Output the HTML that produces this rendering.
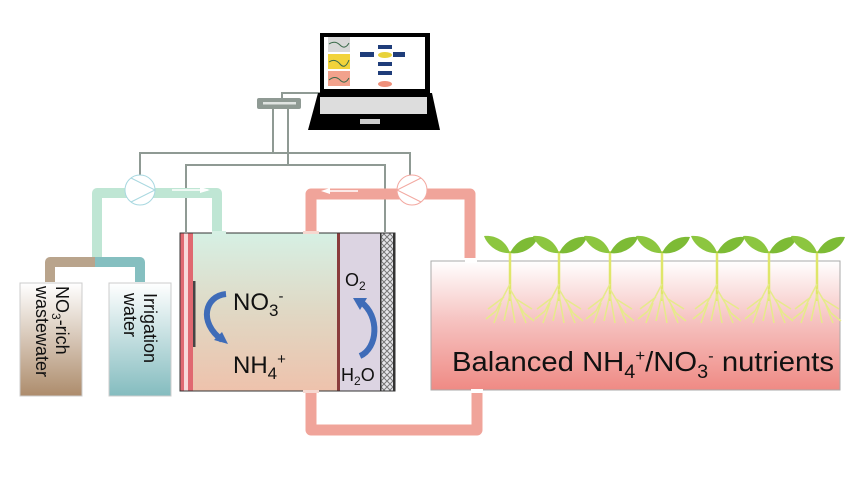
<!DOCTYPE html>
<html><head><meta charset="utf-8"><style>
html,body{margin:0;padding:0;background:#fff;}
svg{display:block;font-family:"Liberation Sans",sans-serif;}
</style></head><body>
<svg width="854" height="480" viewBox="0 0 854 480" xmlns="http://www.w3.org/2000/svg">
<defs>
<linearGradient id="tank" x1="0" y1="0" x2="0" y2="1"><stop offset="0" stop-color="#d6f0e4"/><stop offset="0.5" stop-color="#e0d8c4"/><stop offset="1" stop-color="#eec2ac"/></linearGradient>
<linearGradient id="trough" x1="0" y1="0" x2="0" y2="1"><stop offset="0" stop-color="#ffffff"/><stop offset="0.45" stop-color="#f6c4c2"/><stop offset="1" stop-color="#ef8a84"/></linearGradient>
<linearGradient id="brown" x1="0" y1="0" x2="0" y2="1"><stop offset="0" stop-color="#ffffff"/><stop offset="1" stop-color="#ad8c6c"/></linearGradient>
<linearGradient id="teal" x1="0" y1="0" x2="0" y2="1"><stop offset="0" stop-color="#ffffff"/><stop offset="1" stop-color="#84bcbf"/></linearGradient>
<pattern id="mesh" width="6" height="6" patternUnits="userSpaceOnUse"><rect width="6" height="6" fill="#e6e6ea"/><path d="M0 0L6 6M6 0L0 6" stroke="#777" stroke-width="1"/></pattern>
<g id="plant">
<path d="M0 12 L0 62" stroke="#dfe66a" stroke-width="2.5" fill="none"/>
<path d="M0 45 L-14 72 M0 50 L14 74 M0 55 L-6 82 M0 55 L5 84 M-6 58 L-22 70 M6 60 L22 70 M-9 64 L-16 84 M9 66 L16 84 M-14 72 L-24 80 M14 74 L24 82" stroke="#e6ea8a" stroke-width="1.5" fill="none"/>
<path d="M0 14 C-4 2 -14 -4 -26 -3 C-22 8 -10 15 0 14Z" fill="#8cc63f"/>
<path d="M0 14 C6 2 16 -3 28 -2 C24 10 10 16 0 14Z" fill="#7dbb35"/>
</g>
</defs>

<g stroke="#8f9a94" stroke-width="2" fill="none">
<path d="M273 108 V153 M140 175 V153 H410 V175"/>
<path d="M288 108 V165 M186 232 V165 H385 V232"/>
<path d="M282 98 V93 H320"/>
</g>
<rect x="257" y="98" width="44" height="11" rx="2" fill="#8f9a94"/>
<rect x="263" y="102" width="33" height="2.5" fill="#e0e4e2"/>

<path d="M320 33 H430 V93 H320Z" fill="#000"/>
<rect x="324" y="37" width="101" height="52" fill="#fff"/>
<rect x="328" y="37" width="22" height="15" fill="#d8d8d8"/>
<rect x="328" y="54" width="22" height="15" fill="#f2d33a"/>
<rect x="328" y="71" width="22" height="15" fill="#f2a28c"/>
<path d="M329 44 Q335 40 340 45 T349 43 M329 62 Q335 58 340 64 T349 60 M329 80 Q335 75 340 80 T349 78" stroke="#3a6a4a" stroke-width="1" fill="none"/>
<rect x="360" y="52" width="14" height="5" fill="#1f3d7a"/>
<rect x="378" y="45" width="14" height="4" fill="#1f3d7a"/>
<rect x="378" y="62" width="14" height="4" fill="#1f3d7a"/>
<rect x="378" y="71" width="14" height="4" fill="#1f3d7a"/>
<rect x="393" y="52" width="12" height="5" fill="#1f3d7a"/>
<ellipse cx="385" cy="55" rx="7" ry="3" fill="#e8d23a"/>
<ellipse cx="385" cy="84" rx="7" ry="3" fill="#f0907a"/>
<path d="M318 93 H432 L440 130 H308Z" fill="#000"/>
<rect x="320" y="97" width="107" height="17" fill="#ddd"/>
<rect x="360" y="119" width="20" height="5" fill="#ccc"/>

<g fill="none" stroke-linejoin="round">
<path d="M97 258 V193 H217 V232" stroke="#bfe6d4" stroke-width="10"/>
<path d="M50 282 V262 H95" stroke="#b9a48c" stroke-width="10"/>
<path d="M95 262 H140 V282" stroke="#85bfc0" stroke-width="10"/>
<path d="M311 232 V194 H470 V258" stroke="#f0a49a" stroke-width="11"/>
<path d="M311 392 V430 H477 V390" stroke="#f0a49a" stroke-width="11"/>
</g>
<path d="M172 190 H208" stroke="#fff" stroke-width="1.5"/><path d="M200 187 L210 190 L200 193Z" fill="#fff"/>
<path d="M330 191 H358" stroke="#fff" stroke-width="1.5"/><path d="M330 188 L321 191 L330 194Z" fill="#fff"/>
<g stroke-width="1" fill="#fff">
<circle cx="140" cy="190" r="15" stroke="#a8d8e0"/>
<path d="M131 178 L155 190 L131 202" stroke="#a8d8e0" fill="none"/>
<circle cx="412" cy="190" r="15" stroke="#f3a8a0"/>
<path d="M421 178 L397 190 L421 202" stroke="#f3a8a0" fill="none"/>
</g>

<rect x="20" y="283" width="62" height="113" fill="url(#brown)" stroke="#ccc"/>
<rect x="109" y="283" width="62" height="113" fill="url(#teal)" stroke="#ccc"/>
<g font-size="18" fill="#111">
<text transform="translate(56,286) rotate(90)">NO<tspan font-size="12" dy="4">3</tspan><tspan dy="-4">-rich</tspan></text>
<text transform="translate(36,286) rotate(90)">wastewater</text>
<text transform="translate(144,293) rotate(90)">Irrigation</text>
<text transform="translate(124,293) rotate(90)">water</text>
</g>

<rect x="180" y="233" width="214" height="158" fill="url(#tank)" stroke="#333" stroke-width="1"/>
<rect x="339" y="233" width="42" height="158" fill="#dcd4e2"/>
<rect x="337" y="233" width="3" height="158" fill="#8a3c3c"/>
<rect x="381" y="233" width="12" height="158" fill="url(#mesh)"/>
<rect x="393" y="233" width="2" height="158" fill="#333"/>
<rect x="380" y="233" width="1.5" height="158" fill="#333"/>
<rect x="180" y="233" width="13" height="158" fill="#e06870"/>
<rect x="184" y="233" width="4" height="158" fill="#f8d8d8"/>
<rect x="193" y="281" width="2.5" height="66" fill="#444"/>
<rect x="180" y="233" width="215" height="158" fill="none" stroke="#333" stroke-width="1"/>
<rect x="212" y="231" width="14" height="3" fill="#d6f0e4"/>
<rect x="303" y="231" width="16" height="3" fill="#f6d8d0"/>
<rect x="303" y="390" width="16" height="3" fill="#f6d8d0"/>
<path d="M226 294 C205 296 198 322 222 340" stroke="#3f6cb8" stroke-width="6" fill="none"/>
<path d="M214 340 L228 344 L222 332Z" fill="#3f6cb8"/>
<path d="M360 356 C378 348 380 316 361 302" stroke="#3f6cb8" stroke-width="6" fill="none"/>
<path d="M353 298 L360 310 L367 298Z" fill="#3f6cb8"/>
<g fill="#111" font-size="24">
<text x="233" y="310">NO<tspan font-size="17" dy="6">3</tspan><tspan font-size="15" dy="-15">-</tspan></text>
<text x="233" y="373">NH<tspan font-size="17" dy="6">4</tspan><tspan font-size="15" dy="-15">+</tspan></text>
</g>
<g fill="#111" font-size="18">
<text x="345" y="286">O<tspan font-size="12" dy="4">2</tspan></text>
<text x="341" y="381">H<tspan font-size="12" dy="4">2</tspan><tspan dy="-4">O</tspan></text>
</g>

<rect x="431" y="261" width="409" height="129" fill="url(#trough)" stroke="#aaa" stroke-width="1"/>
<rect x="465" y="259" width="12" height="4" fill="#fff"/>
<rect x="471" y="389" width="12" height="4" fill="#fff"/>
<use href="#plant" x="510" y="239"/>
<use href="#plant" x="559" y="239"/>
<use href="#plant" x="610" y="239"/>
<use href="#plant" x="662" y="239"/>
<use href="#plant" x="717" y="239"/>
<use href="#plant" x="769" y="239"/>
<use href="#plant" x="817" y="239"/>
<text x="452" y="371" font-size="28" fill="#111" textLength="382" lengthAdjust="spacingAndGlyphs">Balanced NH<tspan font-size="19" dy="7">4</tspan><tspan font-size="16" dy="-17">+</tspan><tspan dy="10">/NO</tspan><tspan font-size="19" dy="7">3</tspan><tspan font-size="16" dy="-17">-</tspan><tspan dy="10"> nutrients</tspan></text>
</svg>
</body></html>
